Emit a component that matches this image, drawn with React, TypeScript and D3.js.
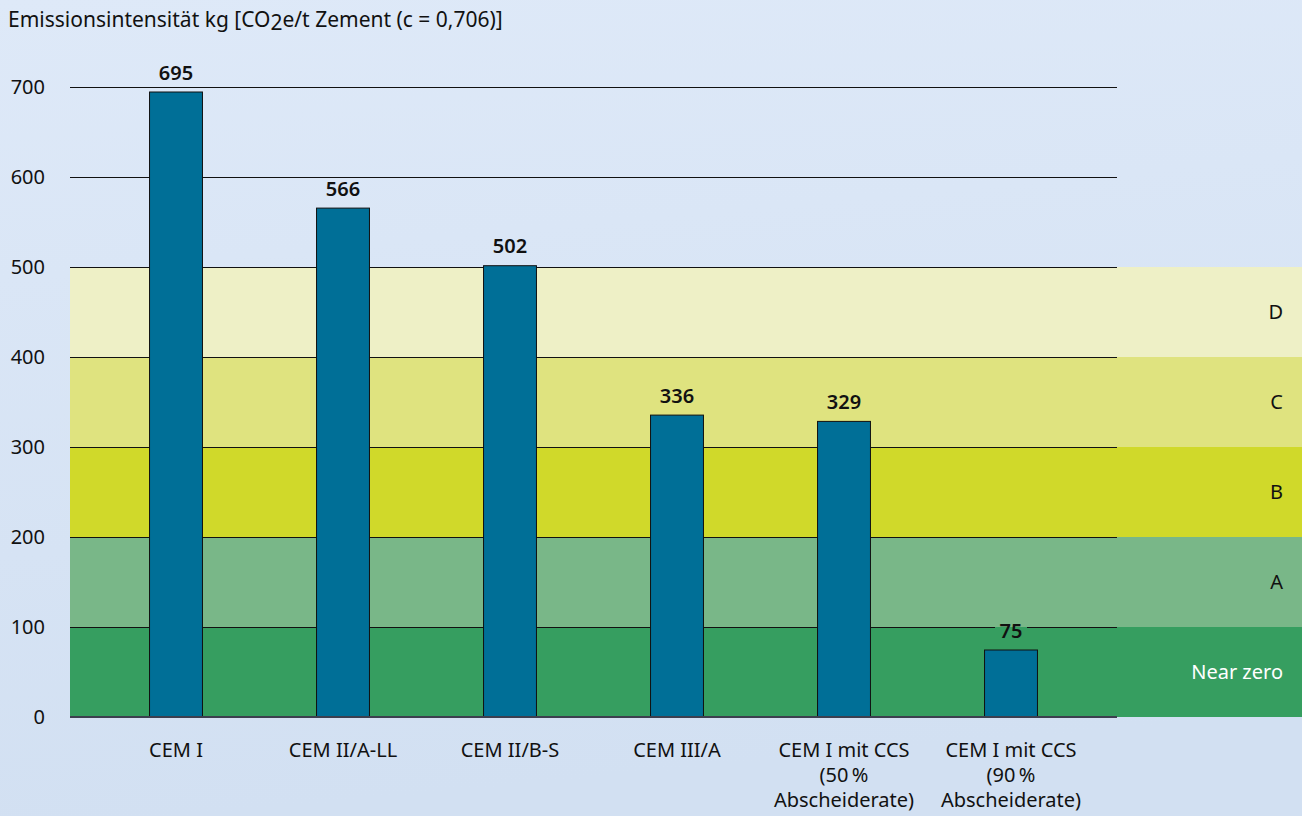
import React from "react";
import * as d3 from "d3";

const categories: string[][] = [
  ["CEM I"],
  ["CEM II/A-LL"],
  ["CEM II/B-S"],
  ["CEM III/A"],
  ["CEM I mit CCS", "(50\u2009%", "Abscheiderate)"],
  ["CEM I mit CCS", "(90\u2009%", "Abscheiderate)"],
];
const values: number[] = [695, 566, 502, 336, 329, 75];
const yTicks: number[] = [0, 100, 200, 300, 400, 500, 600, 700];
const bandLabels: string[] = ["Near zero", "A", "B", "C", "D"];
const bandLow: number[] = [0, 100, 200, 300, 400];
const bandHigh: number[] = [100, 200, 300, 400, 500];
const bandColors: string[] = ["#369e60", "#79b788", "#d0d92a", "#dfe37f", "#eef0c6"];
const bandTextColors: string[] = ["#ffffff", "#111", "#111", "#111", "#111"];

const W = 1302;
const H = 816;
const FONT = "'Noto Sans', 'Open Sans', sans-serif";
const FS = 20;

export default function App() {
  const plotLeft = 70;
  const plotRight = 1117;
  const y = d3.scaleLinear().domain([0, 700]).range([717, 87]);
  const keys = categories.map((c) => c.join(" "));
  const x = d3
    .scaleBand<string>()
    .domain(keys)
    .range([92.5, 1094.5])
    .paddingInner(0.683)
    .paddingOuter(0.3415);
  const bw = x.bandwidth();

  const labelBoxes = values.map((v, i) => {
    const cx = (x(keys[i]) as number) + bw / 2;
    const by = y(v) - 12;
    const tw = String(v).length * 12 + 8;
    return { x: cx - tw / 2, y: by - 17, w: tw, h: 22 };
  });

  return (
    <svg
      width={W}
      height={H}
      style={{ position: "absolute", left: 0, top: 0, fontFamily: FONT }}
    >
      <defs>
        <linearGradient id="bg" x1="0" y1="0" x2="0.15" y2="1">
          <stop offset="0" stopColor="#dee9f8" />
          <stop offset="1" stopColor="#d2e0f2" />
        </linearGradient>
        <mask id="gridMask">
          <rect x={0} y={0} width={W} height={H} fill="white" />
          {labelBoxes.map((b, i) => (
            <rect key={i} x={b.x} y={b.y} width={b.w} height={b.h} fill="black" />
          ))}
        </mask>
      </defs>
      <rect x={0} y={0} width={W} height={H} fill="url(#bg)" />

      <text x={8} y={27} fontSize={21} fill="#111">
        Emissionsintensität kg [CO
        <tspan dy={3}>2</tspan>
        <tspan dy={-3}>e/t Zement (c = 0,706)]</tspan>
      </text>

      {bandLabels.map((lab, i) => (
        <g key={lab}>
          <rect
            x={plotLeft}
            y={y(bandHigh[i])}
            width={W - plotLeft}
            height={y(bandLow[i]) - y(bandHigh[i])}
            fill={bandColors[i]}
          />
          <text
            x={1283}
            y={(y(bandLow[i]) + y(bandHigh[i])) / 2 + 7}
            textAnchor="end"
            fontSize={FS}
            fill={bandTextColors[i]}
          >
            {lab}
          </text>
        </g>
      ))}

      <g mask="url(#gridMask)">
        {yTicks
          .filter((t) => t > 0)
          .map((t) => (
            <line
              key={t}
              x1={plotLeft}
              x2={plotRight}
              y1={y(t) + 0.5}
              y2={y(t) + 0.5}
              stroke="#111"
              strokeWidth={1}
            />
          ))}
      </g>
      {yTicks.map((t) => (
        <text key={t} x={45} y={y(t) + 7} textAnchor="end" fontSize={FS} fill="#111">
          {t}
        </text>
      ))}

      {values.map((v, i) => (
        <rect
          key={i}
          x={x(keys[i])}
          y={y(v) + 0.5}
          width={bw}
          height={y(0) - y(v)}
          fill="#006f97"
          stroke="#111"
          strokeWidth={1}
        />
      ))}
      <line x1={plotLeft} x2={plotRight} y1={y(0)} y2={y(0)} stroke="#3c3f4f" strokeWidth={2} />

      {values.map((v, i) => (
        <text
          key={i}
          x={(x(keys[i]) as number) + bw / 2}
          y={y(v) - 12}
          textAnchor="middle"
          fontSize={FS}
          fontWeight={600}
          fill="#111"
        >
          {v}
        </text>
      ))}

      {categories.map((lines, i) => (
        <text
          key={i}
          x={(x(keys[i]) as number) + bw / 2}
          y={757}
          textAnchor="middle"
          fontSize={FS}
          fill="#111"
        >
          {lines.map((l, j) => (
            <tspan key={j} x={(x(keys[i]) as number) + bw / 2} dy={j === 0 ? 0 : 25}>
              {l}
            </tspan>
          ))}
        </text>
      ))}
    </svg>
  );
}
